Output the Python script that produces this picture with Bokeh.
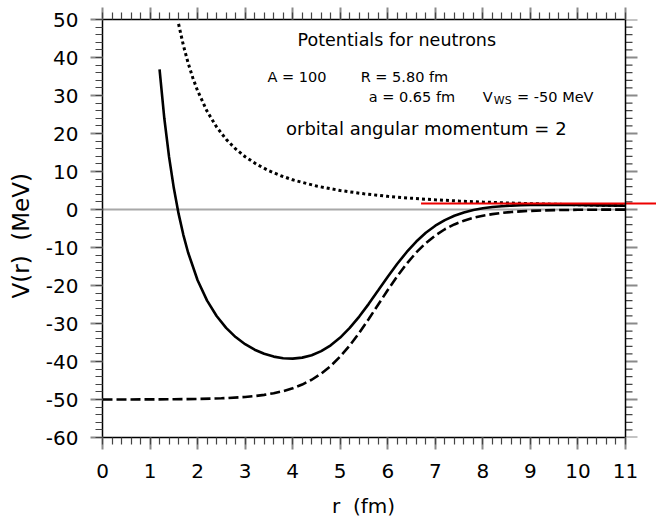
from bokeh.plotting import figure
from bokeh.models import Range1d, LinearAxis, SingleIntervalTicker, Span, Label
from bokeh.embed import file_html
from bokeh.resources import INLINE

# ---- data ----
r_ws = [0, 0.5, 1.0, 1.5, 2.0, 2.5, 3.0, 3.2, 3.4, 3.6, 3.8, 4.0, 4.2, 4.4, 4.6, 4.8,
        5.0, 5.2, 5.4, 5.6, 5.8, 6.0, 6.2, 6.4, 6.6, 6.8, 7.0, 7.2, 7.4, 7.6, 7.8,
        8.0, 8.2, 8.4, 8.6, 8.8, 9.0, 9.5, 10.0, 10.5, 11.0]
v_ws = [-50.0, -49.99, -49.97, -49.93, -49.86, -49.69, -49.34, -49.10, -48.78, -48.36,
        -47.80, -47.05, -46.07, -44.80, -43.18, -41.16, -38.70, -35.78, -32.46, -28.82,
        -25.0, -21.18, -17.54, -14.22, -11.30, -8.84, -6.82, -5.20, -3.93, -2.95, -2.20,
        -1.64, -1.22, -0.90, -0.66, -0.49, -0.36, -0.17, -0.08, -0.04, -0.02]

r_cf = [1.6, 1.7, 1.8, 1.9, 2.0, 2.2, 2.4, 2.6, 2.8, 3.0, 3.25, 3.5, 3.75, 4.0, 4.5,
        5.0, 5.5, 6.0, 6.5, 7.0, 7.5, 8.0, 8.5, 9.0, 9.5, 10.0, 10.5, 11.0]
v_cf = [48.83, 43.25, 38.58, 34.63, 31.25, 25.83, 21.70, 18.49, 15.94, 13.89, 11.83,
        10.20, 8.89, 7.81, 6.17, 5.00, 4.13, 3.47, 2.96, 2.55, 2.22, 1.95, 1.73, 1.54,
        1.39, 1.25, 1.13, 1.03]

r_tot = [1.2, 1.3, 1.4, 1.5, 1.6, 1.7, 1.8, 2.0, 2.2, 2.4, 2.6, 2.8, 3.0, 3.2, 3.4,
         3.6, 3.8, 4.0, 4.2, 4.4, 4.6, 4.8, 5.0, 5.2, 5.4, 5.6, 5.8, 6.0, 6.2, 6.4,
         6.6, 6.8, 7.0, 7.2, 7.4, 7.6, 7.8, 8.0, 8.2, 8.4, 8.6, 8.8, 9.0, 9.5, 10.0,
         10.5, 11.0]
v_tot = [36.85, 24.01, 13.84, 5.63, -1.09, -6.66, -11.31, -18.61, -23.97, -28.03,
         -31.15, -33.57, -35.45, -36.89, -37.97, -38.71, -39.14, -39.24, -38.98, -38.34,
         -37.27, -35.73, -33.70, -31.16, -28.17, -24.83, -21.28, -17.71, -14.29, -11.17,
         -8.43, -6.14, -4.27, -2.79, -1.65, -0.79, -0.15, 0.31, 0.65, 0.87, 1.03, 1.12,
         1.18, 1.22, 1.17, 1.09, 1.01]

red_x0 = 6.7      # red line start (r, fm); it runs on past the box to the page edge
red_y = 1.6       # red line level (MeV)

x_range = [0, 11]
y_range = [-60, 50]
x_ticks = [0, 1, 2, 3, 4, 5, 6, 7, 8, 9, 10, 11]
x_tick_labels = ["0", "1", "2", "3", "4", "5", "6", "7", "8", "9", "10", "11"]
y_ticks = [-60, -50, -40, -30, -20, -10, 0, 10, 20, 30, 40, 50]
y_tick_labels = ["-60", "-50", "-40", "-30", "-20", "-10", "0", "10", "20", "30", "40", "50"]

title_txt = "Potentials for neutrons"
info_A = "A = 100"
info_R = "R = 5.80 fm"
info_a = "a = 0.65 fm"
info_V = "V"
info_V_sub = "WS"
info_V_val = "= -50 MeV"
info_l = "orbital angular momentum = 2"
x_label = "r\u00a0\u00a0(fm)"
y_label = "V(r)\u00a0\u00a0(MeV)"

FONT = "DejaVu Sans"
NB = "\u00a0"

# ---- layout: the plotting box spans x 102..625 px; the frame is widened to the
# page edge (656 px) so the red line can run past the box, as in the reference
W, H = 656, 523
BOX_L, BOX_R = 102, 625
x_view_end = x_range[1] * (W - BOX_L) / (BOX_R - BOX_L)

p = figure(width=W, height=H, output_backend="svg", toolbar_location=None,
           x_range=Range1d(x_range[0], x_view_end), y_range=Range1d(*y_range),
           x_axis_type=None, y_axis_type=None,
           min_border_left=BOX_L, min_border_right=0, min_border_top=19,
           min_border_bottom=86)
p.background_fill_color = "white"
p.border_fill_color = "white"
p.xgrid.visible = False
p.ygrid.visible = False
p.outline_line_color = None

MAJ_COL, MAJ_W = "#8a8a8a", 2
MIN_COL, MIN_W = "#444444", 1.2


def style_axis(ax, show_labels):
    ax.axis_line_color = "black"
    ax.axis_line_width = 1.5
    ax.major_tick_in = 0
    ax.major_tick_out = 12
    ax.minor_tick_in = 0
    ax.minor_tick_out = 7
    ax.major_tick_line_color = MAJ_COL
    ax.major_tick_line_width = MAJ_W
    ax.minor_tick_line_color = MIN_COL
    ax.minor_tick_line_width = MIN_W
    if show_labels:
        ax.major_label_text_font = FONT
        ax.major_label_text_font_size = "20px"
        ax.major_label_text_color = "black"
        ax.axis_label_text_font = FONT
        ax.axis_label_text_font_style = "normal"
        ax.axis_label_text_color = "black"
    else:
        ax.major_label_text_font_size = "0px"
        ax.major_label_standoff = 0
        ax.major_label_text_color = None


# the axis title is centred on the widened frame; trailing no-break spaces
# move it back over the centre of the box
xb = LinearAxis(ticker=SingleIntervalTicker(interval=1, num_minor_ticks=5),
                axis_label=x_label + NB * 5, bounds=tuple(x_range))
style_axis(xb, True)
xb.major_label_overrides = dict(zip(x_ticks, x_tick_labels))
xb.major_label_standoff = 14
xb.axis_label_standoff = 13
xb.axis_label_text_font_size = "20px"
p.add_layout(xb, "below")

yl = LinearAxis(ticker=SingleIntervalTicker(interval=10, num_minor_ticks=5),
                axis_label=y_label + NB * 2)
style_axis(yl, True)
yl.major_label_overrides = dict(zip(y_ticks, y_tick_labels))
yl.major_label_standoff = 12
yl.axis_label_standoff = 9
yl.axis_label_text_font_size = "23px"
p.add_layout(yl, "left")

xa = LinearAxis(ticker=SingleIntervalTicker(interval=1, num_minor_ticks=5),
                bounds=tuple(x_range))
style_axis(xa, False)
p.add_layout(xa, "above")

# right edge of the box with outward ticks (drawn inside the widened frame)
y_minor = [v for v in range(y_range[0], y_range[1] + 1, 2) if v not in y_ticks]
p.ray(x=[x_range[1]] * len(y_minor), y=y_minor, length=7, length_units="screen",
      angle=0, line_color=MIN_COL, line_width=MIN_W)
p.ray(x=[x_range[1]] * len(y_ticks), y=y_ticks, length=12, length_units="screen",
      angle=0, line_color=MAJ_COL, line_width=MAJ_W)
p.add_layout(Span(location=x_range[1], dimension="height", line_color="black",
                  line_width=1.5))

# zero line (inside the box only)
p.segment(x0=[x_range[0]], y0=[0], x1=[x_range[1]], y1=[0],
          line_color="#a8a8a8", line_width=2)

# curves
p.line(r_ws, v_ws, line_color="black", line_width=2.6, line_dash="10 4")
p.line(r_cf, v_cf, line_color="black", line_width=3, line_dash="3 3")
p.line(r_tot, v_tot, line_color="black", line_width=2.6)

# red line: starts at red_x0 and runs to the page edge
p.ray(x=[red_x0], y=[red_y], length=0, angle=0, line_color="#ee0000", line_width=2)

# texts
def lab(x, y, t, size, align="left", yoff=0):
    p.add_layout(Label(x=x, y=y, text=t, text_font=FONT, text_font_size=size,
                       text_align=align, text_baseline="middle", text_color="black",
                       y_offset=yoff))

lab(6.19, 44.5, title_txt, "17.5px", align="center")
lab(3.47, 35.0, info_A, "14.5px")
lab(5.43, 35.0, info_R, "14.5px")
lab(5.60, 29.5, info_a, "14.5px")
lab(8.0, 29.5, info_V, "14.5px")
lab(8.23, 29.5, info_V_sub, "11px", yoff=-3)
lab(8.72, 29.5, info_V_val, "14.5px")
lab(6.81, 21.3, info_l, "18px", align="center")

open("out.html", "w").write(file_html(p, INLINE))
